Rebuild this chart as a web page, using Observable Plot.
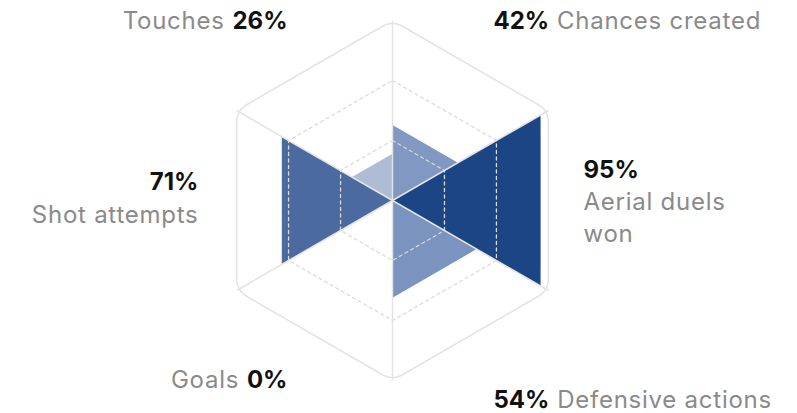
<!DOCTYPE html>
<html><head><meta charset="utf-8">
<script src="https://cdn.jsdelivr.net/npm/d3@7"></script>
<script src="https://cdn.jsdelivr.net/npm/@observablehq/plot@0.6"></script>
<style>body{margin:0;background:#fff}#chart{width:797px;height:413px}</style>
</head><body><div id="chart"></div>
<script>
// ---- data (clockwise from the top spoke) ----
const categories = ["Chances created", "Aerial duels won", "Defensive actions", "Goals", "Shot attempts", "Touches"];
const values = [42, 95, 54, 0, 71, 26];
const valueLabels = values.map(v => v + "%");
const palette = ["#8098c2", "#1c4585", "#7a93bf", "#dfe5ef", "#4a6aa0", "#aebcd6"];
const gridLevels = [1 / 3, 2 / 3];

// ---- geometry ----
const R = 180;
const FONT = "Inter, 'DejaVu Sans', sans-serif";
const FS = 24;
const pt = (k, r) => { const a = k * Math.PI / 3; return [r * Math.sin(a), -r * Math.cos(a)]; };

const sectors = categories.flatMap((c, i) => {
  const r = R * values[i] / 100;
  return [[0, 0], pt(i, r), pt(i + 1, r)].map(([x, y]) => ({category: c, x, y}));
}).filter((d, j) => values[Math.floor(j / 3)] > 0);

const rings = gridLevels.flatMap(f => d3.range(6).map(k => { const [x, y] = pt(k, R * f); return {ring: f, x, y}; }));
const spokes = d3.range(6).map(k => { const [x, y] = pt(k, R); return {x, y}; });
const cr = 12;
const outer = d3.range(6).flatMap(k => {
  const v = pt(k, R), p = pt(k - 1, R), n = pt(k + 1, R), t = cr / R;
  const a = [v[0] + (p[0] - v[0]) * t, v[1] + (p[1] - v[1]) * t];
  const b = [v[0] + (n[0] - v[0]) * t, v[1] + (n[1] - v[1]) * t];
  return d3.range(9).map(j => {
    const s = j / 8;
    return {x: (1 - s) * (1 - s) * a[0] + 2 * s * (1 - s) * v[0] + s * s * b[0],
            y: (1 - s) * (1 - s) * a[1] + 2 * s * (1 - s) * v[1] + s * s * b[1]};
  });
});

// ---- label layout (offsets from centre, baselines) ----
const layout = [
  {mode: "inline", side: "right", x: 101, y: -172, ny: -172},
  {mode: "stack", side: "right", x: 191, y: -23, ny: 41},
  {mode: "inline", side: "right", x: 101, y: 207, ny: 207},
  {mode: "inline", side: "left", x: -105, y: 187, ny: 187},
  {mode: "stack", side: "left", x: -194, y: -11, ny: 22},
  {mode: "inline", side: "left", x: -105, y: -172, ny: -172}
];
const ctx = document.createElement("canvas").getContext("2d");
const measure = (s, w) => { ctx.font = `${w} ${FS}px ${FONT}`; return ctx.measureText(s).width; };
const gap = measure(" ", 400) + 1;
const labels = categories.map((c, i) => {
  const L = layout[i];
  const vw = measure(valueLabels[i], 700);
  let nx = L.x;
  if (L.mode === "inline") nx = L.side === "right" ? L.x + vw + gap : L.x - vw - gap;
  return {name: c, value: valueLabels[i], vx: L.x, vy: L.y, nx, ny: L.ny, mode: L.mode,
          anchor: L.side === "right" ? "start" : "end"};
});

const spaced = (index, scales, values, dims, context, next) => {
  const g = next(index, scales, values, dims, context);
  g.setAttribute("letter-spacing", "0.75px");
  return g;
};
const textMarks = [];
for (const anchor of ["start", "end"]) {
  textMarks.push(Plot.text(labels.filter(d => d.anchor === anchor), {
    x: "vx", y: "vy", text: "value", textAnchor: anchor, lineAnchor: "bottom",
    fontSize: FS, fontWeight: 700, fill: "#111"}));
  for (const mode of ["inline", "stack"]) {
    textMarks.push(Plot.text(labels.filter(d => d.anchor === anchor && d.mode === mode), {
      x: "nx", y: "ny", text: "name", textAnchor: anchor, lineAnchor: "bottom",
      lineWidth: mode === "stack" ? 7 : Infinity, lineHeight: 1.33,
      fontSize: FS, fill: "#8a8a8a", render: spaced}));
  }
}

const chart = Plot.plot({
  width: 797, height: 413, margin: 0,
  x: {domain: [-392, 405], range: [0, 797], axis: null},
  y: {domain: [-200, 213], range: [0, 413], axis: null},
  color: {type: "ordinal", domain: categories, range: palette},
  style: {background: "#fff", fontFamily: FONT},
  marks: [
    Plot.line(sectors, {x: "x", y: "y", z: "category", fill: "category", stroke: null, curve: "linear-closed"}),
    Plot.line(rings, {x: "x", y: "y", z: "ring", curve: "linear-closed", stroke: "#d9d9d9", strokeWidth: 1.3, strokeDasharray: "3,3.5"}),
    Plot.link(spokes, {x1: 0, y1: 0, x2: "x", y2: "y", stroke: "#e3e3e3", strokeWidth: 1.5}),
    Plot.line(outer, {x: "x", y: "y", curve: "linear-closed", stroke: "#e3e3e3", strokeWidth: 1.5}),
    ...textMarks
  ]
});
document.getElementById("chart").append(chart);
</script></body></html>
